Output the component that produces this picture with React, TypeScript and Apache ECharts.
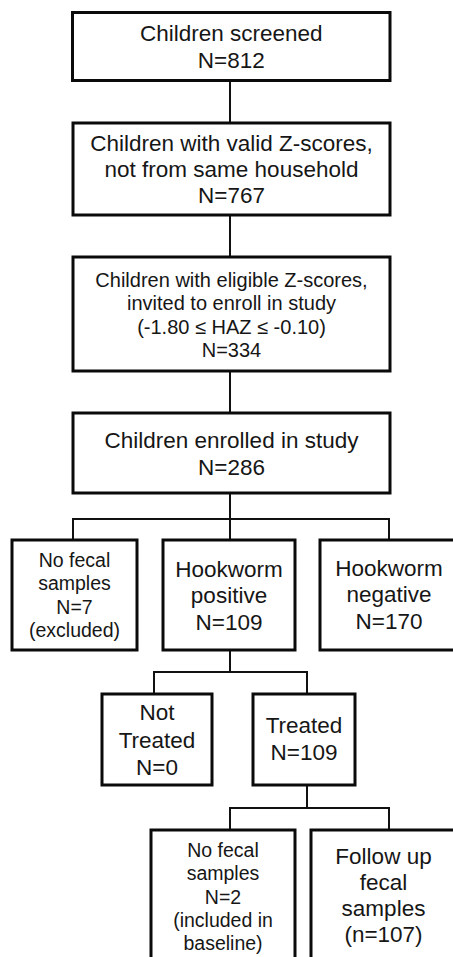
import React, { useEffect, useRef } from "react";
import * as echarts from "echarts";

// ---- Data (flowchart contents) ----
const nodeTitles: string[] = [
  "Children screened",
  "Children with valid Z-scores,\nnot from same household",
  "Children with eligible Z-scores,\ninvited to enroll in study\n(-1.80 \u2264 HAZ \u2264 -0.10)",
  "Children enrolled in study",
  "No fecal\nsamples",
  "Hookworm\npositive",
  "Hookworm\nnegative",
  "Not\nTreated",
  "Treated",
  "No fecal\nsamples",
  "Follow up\nfecal\nsamples",
];
const countPrefix: string[] = ["N=", "N=", "N=", "N=", "N=", "N=", "N=", "N=", "N=", "N=", "(n="];
const nodeCounts: number[] = [812, 767, 334, 286, 7, 109, 170, 0, 109, 2, 107];
const nodeNotes: string[] = ["", "", "", "", "(excluded)", "", "", "", "", "(included in\nbaseline)", ""];
// parent index for each node (-1 = root)
const nodeParents: number[] = [-1, 0, 1, 2, 3, 3, 3, 5, 5, 8, 8];

// ---- Layout (positions / styles) ----
// box: [left, top, right, bottom], text centre y, font size, line height
const layout: { box: number[]; ty: number; fs: number; lh: number }[] = [
  { box: [72.5, 12.5, 390, 80.5], ty: 46.5, fs: 22.5, lh: 27 },
  { box: [73, 123, 390, 215], ty: 169, fs: 22.5, lh: 26 },
  { box: [73, 257, 390, 371], ty: 315, fs: 20, lh: 23.3 },
  { box: [73, 413, 390, 493], ty: 453.5, fs: 22.5, lh: 27 },
  { box: [12, 540, 137, 650], ty: 595, fs: 19.5, lh: 23.3 },
  { box: [163, 540, 295, 650], ty: 595.5, fs: 22.5, lh: 26.5 },
  { box: [320, 540, 458, 650], ty: 594.5, fs: 22.5, lh: 26.5 },
  { box: [102, 694, 212, 785], ty: 740, fs: 22.5, lh: 27.5 },
  { box: [253, 694, 355, 785], ty: 738.5, fs: 22.5, lh: 27 },
  { box: [151, 830, 295, 975], ty: 896.5, fs: 19.5, lh: 23.3 },
  { box: [311, 830, 456, 975], ty: 895.5, fs: 22.5, lh: 26.3 },
];
// connector anchors for children groups: parent -> { stem x, bar y, child xs }
const forks: Record<number, { sx: number; barY: number; xs: number[] }> = {
  3: { sx: 230, barY: 519, xs: [73, 230, 389] },
  5: { sx: 230, barY: 672, xs: [154, 307] },
  8: { sx: 307, barY: 808, xs: [230, 389] },
};

const FONT = "'Liberation Sans', Arial, Helvetica, sans-serif";

function buildGraphic() {
  const elements: any[] = [];
  // connectors
  for (let i = 0; i < nodeTitles.length; i++) {
    const p = nodeParents[i];
    if (p < 0) continue;
    if (forks[p]) continue;
    const pb = layout[p].box;
    const cb = layout[i].box;
    elements.push({
      type: "line",
      shape: { x1: 230, y1: pb[3], x2: 230, y2: cb[1] },
      style: { stroke: "#111", lineWidth: 2 },
    });
  }
  Object.keys(forks).forEach((k) => {
    const p = Number(k);
    const f = forks[p];
    const pb = layout[p].box;
    const children = nodeParents.map((pp, idx) => (pp === p ? idx : -1)).filter((v) => v >= 0);
    const top = layout[children[0]].box[1];
    elements.push({
      type: "line",
      shape: { x1: f.sx, y1: pb[3], x2: f.sx, y2: f.barY },
      style: { stroke: "#111", lineWidth: 2 },
    });
    elements.push({
      type: "line",
      shape: { x1: f.xs[0] - 1, y1: f.barY, x2: f.xs[f.xs.length - 1] + 1, y2: f.barY },
      style: { stroke: "#111", lineWidth: 2 },
    });
    f.xs.forEach((x) => {
      elements.push({
        type: "line",
        shape: { x1: x, y1: f.barY, x2: x, y2: top },
        style: { stroke: "#111", lineWidth: 2 },
      });
    });
  });
  // boxes and texts
  for (let i = 0; i < nodeTitles.length; i++) {
    const L = layout[i];
    const [l, t, r, b] = L.box;
    elements.push({
      type: "rect",
      shape: { x: l, y: t, width: r - l, height: b - t },
      style: { fill: "#fff", stroke: "#0a0a0a", lineWidth: 3 },
    });
    let txt = nodeTitles[i] + "\n" + countPrefix[i] + nodeCounts[i] + (countPrefix[i].startsWith("(") ? ")" : "");
    if (nodeNotes[i]) txt += "\n" + nodeNotes[i];
    elements.push({
      type: "text",
      x: (l + r) / 2,
      y: L.ty,
      style: {
        text: txt,
        fill: "#161616",
        fontSize: L.fs,
        fontFamily: FONT,
        align: "center",
        verticalAlign: "middle",
        lineHeight: L.lh,
      },
    });
  }
  return elements;
}

export default function App() {
  const ref = useRef<HTMLDivElement>(null);
  useEffect(() => {
    document.body.style.margin = "0";
    if (!ref.current) return;
    const chart = echarts.init(ref.current, undefined, { renderer: "svg" });
    chart.setOption({
      animation: false,
      backgroundColor: "#ffffff",
      graphic: { elements: buildGraphic() },
    });
    return () => chart.dispose();
  }, []);
  return <div ref={ref} style={{ width: 453, height: 957, background: "#fff" }} />;
}
